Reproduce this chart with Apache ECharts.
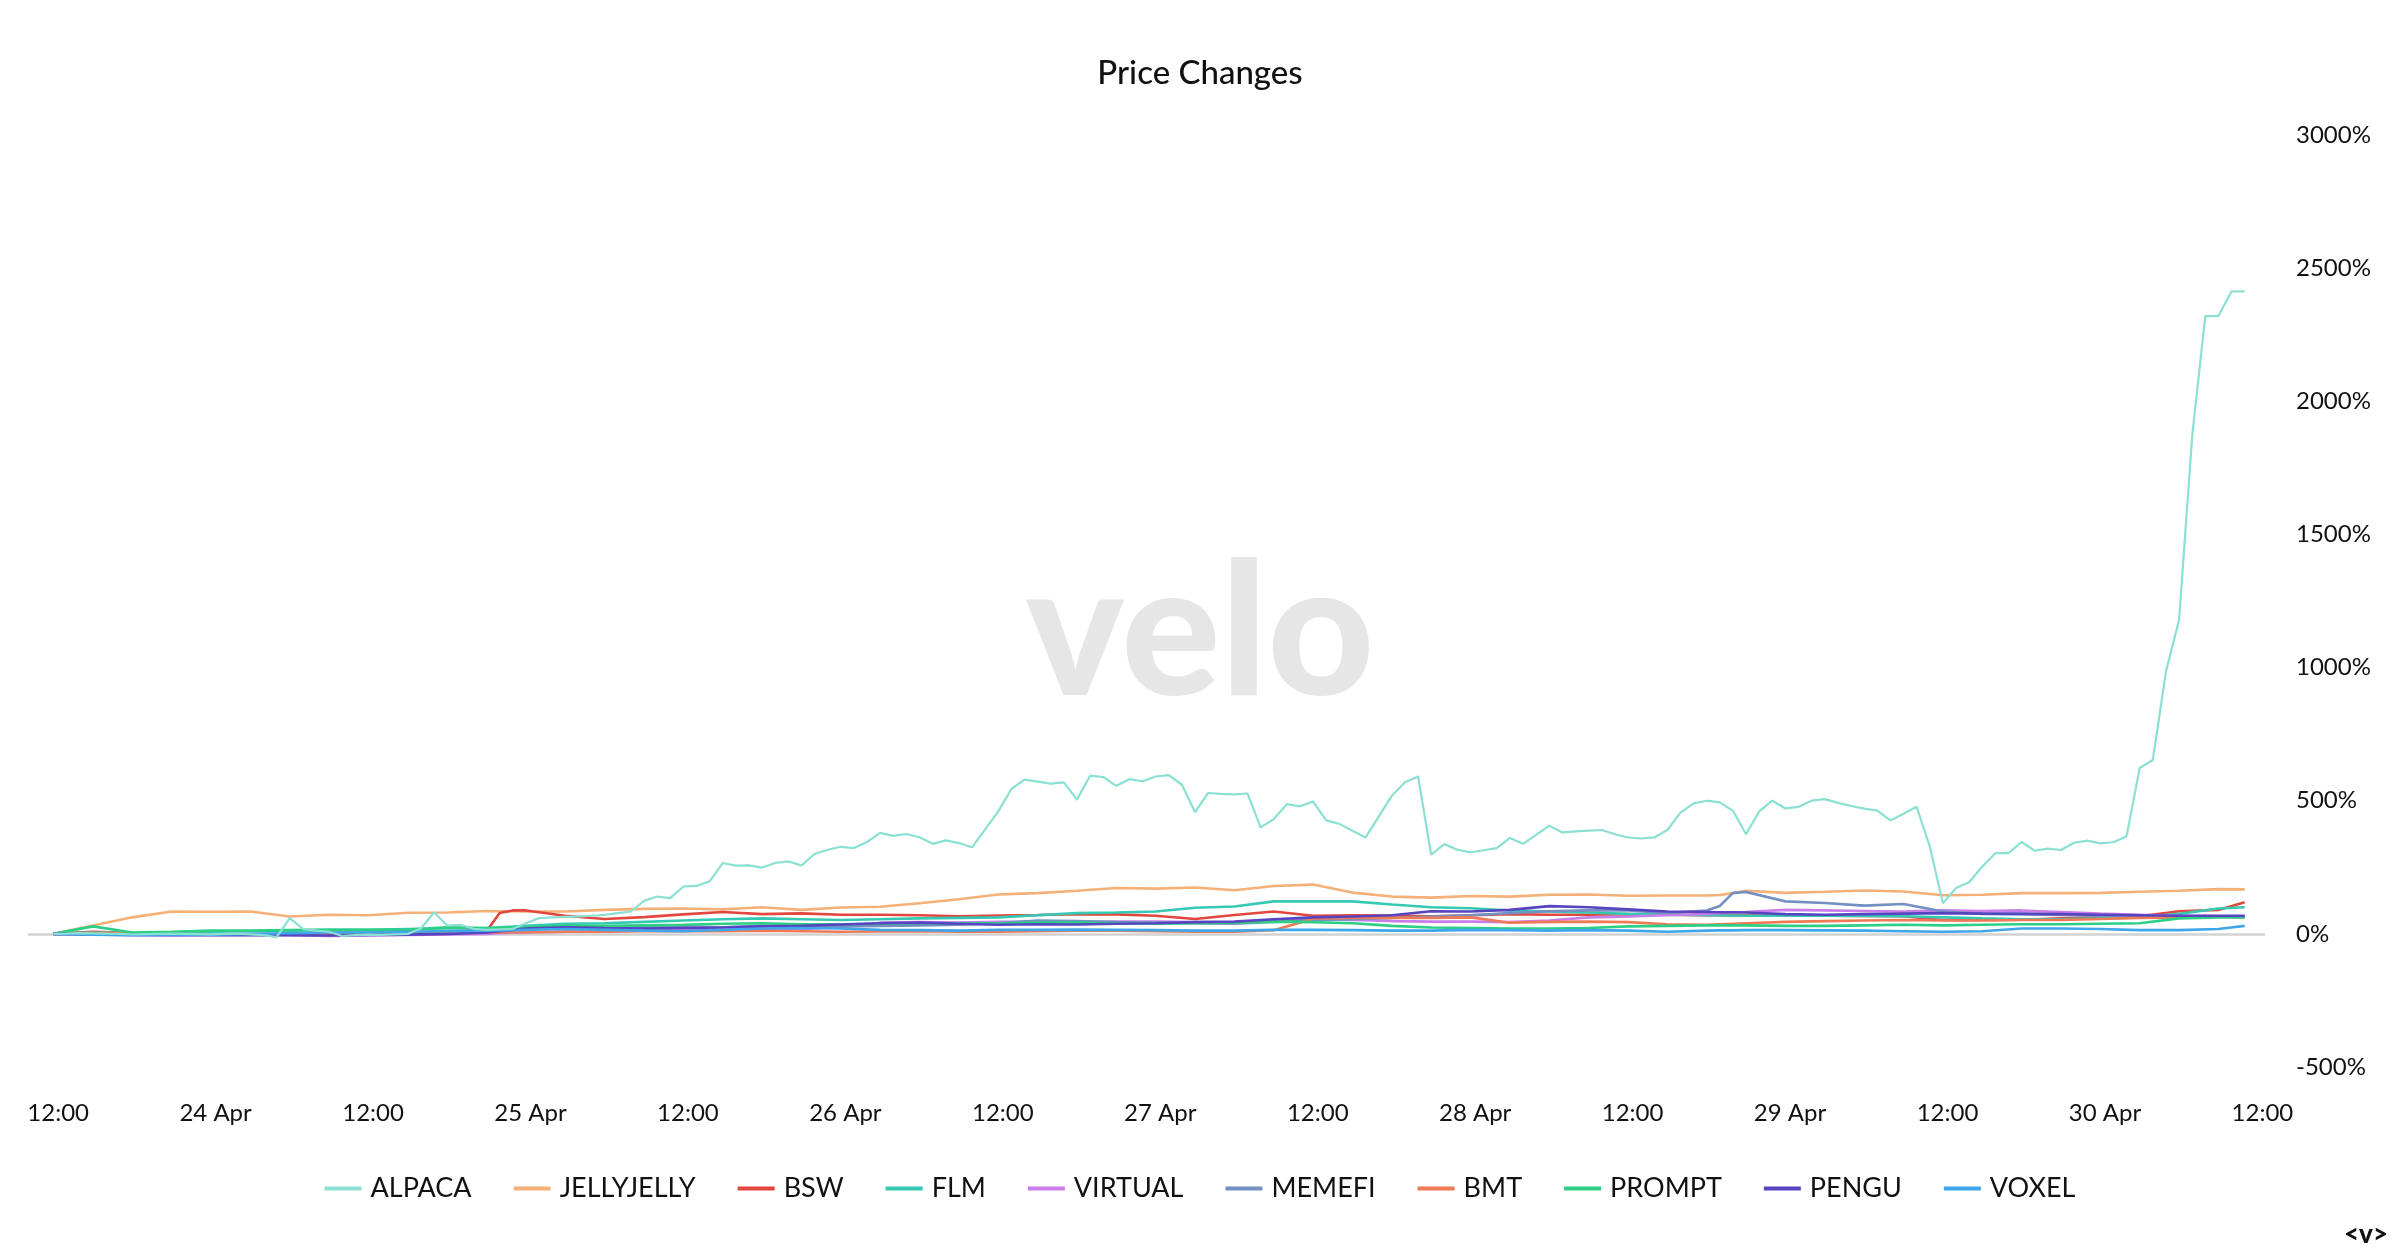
<!DOCTYPE html>
<html><head><meta charset="utf-8">
<script src="https://cdn.jsdelivr.net/npm/echarts@6/dist/echarts.min.js"></script>
<style>html,body{margin:0;padding:0;background:#fff}#c{width:2400px;height:1256px}</style>
</head><body><div id="c"></div>
<script>
// hours are counted from 23 Apr 00:00; samples are hourly at hh:39
const timeOffset = 0.65;
const xTickHours = [12,24,36,48,60,72,84,96,108,120,132,144,156,168,180];
const xTickLabels = ['12:00','24 Apr','12:00','25 Apr','12:00','26 Apr','12:00','27 Apr','12:00','28 Apr','12:00','29 Apr','12:00','30 Apr','12:00'];
const yTicks = {min:-500, max:3000, step:500};

const seriesNames = ['ALPACA','JELLYJELLY','BSW','FLM','VIRTUAL','MEMEFI','BMT','PROMPT','PENGU','VOXEL'];
const seriesColors = ['#8be0d4','#f5b078','#e2473f','#35c9b4','#c87de8','#7390c2','#ef7a55','#2dcf85','#5644c0','#3fa6ea'];

// ALPACA, hourly from hour 11 to hour 178
const alpacaFirstHour = 11;
const alpaca = [0,1,3,2,1,0,-2,-1,0,1,0,-1,-2,0,1,-2,-5,-12,59,19,12,8,-8,-5,-3,-4,-2,0,20,81,
31,34,19,15,17,19,40,59,62,64,66,68,71,78,84,124,140,134,178,180,197,266,256,257,249,266,272,257,300,316,
327,322,345,379,368,375,363,338,351,341,325,392,460,544,579,572,564,569,504,594,589,556,581,573,591,596,560,457,529,526,
524,527,400,431,487,479,497,426,413,387,362,440,519,569,591,297,337,316,306,314,322,360,338,372,406,381,385,388,390,374,
362,358,362,390,455,490,500,494,462,374,460,500,471,477,500,506,492,480,470,463,426,451,477,328,115,172,194,253,303,303,
345,312,320,315,342,350,340,344,367,623,653,985,1179,1869,2320,2320,2413,2413];

// other coins, sampled every few hours
const clusterHours = [11,14,17,20,23,26,29,32,35,38,41,44,45,46,47,50,53,56,59,62,65,68,71,74,77,80,83,86,89,92,95,98,101,104,107,110,113,116,119,122,125,128,131,134,137,138,139,140,143,146,149,152,155,158,161,164,167,170,173,176,178];
const jellyjelly = [0,31,62,84,83,84,65,72,70,79,80,86,85,85,84,84,90,94,95,92,100,90,99,102,115,130,148,153,162,172,170,174,164,180,185,155,140,136,142,140,147,148,143,144,144,146,153,162,154,158,163,159,145,147,153,153,154,158,162,168,167];
const bsw = [0,8,3,2,0,-2,-3,-2,0,2,3,10,78,88,88,68,56,63,73,82,74,77,72,72,70,66,69,71,74,73,68,56,71,84,68,70,69,66,70,74,72,72,74,72,70,70,70,70,68,68,67,66,52,52,53,58,62,66,85,90,119];
const flm = [0,5,3,5,8,10,12,15,15,18,20,22,25,27,30,38,40,45,50,55,58,55,52,55,58,60,62,70,78,80,84,98,103,122,122,122,110,100,96,88,84,80,75,72,70,69,69,68,68,68,67,66,62,58,55,55,58,62,75,95,100];
const virtual = [0,-2,-5,-6,-4,-3,-5,-8,-6,-4,-2,0,2,4,5,8,10,12,14,16,20,18,25,42,44,42,45,46,44,46,46,44,42,50,57,52,48,46,46,44,50,62,65,70,75,78,80,82,90,88,86,84,88,86,88,82,76,72,68,66,63];
const memefi = [0,2,0,-2,-3,-2,2,5,6,8,10,14,15,17,18,20,22,26,28,25,30,30,28,30,32,34,40,50,48,44,42,40,38,45,52,55,60,65,70,78,85,88,88,78,88,105,154,157,122,116,106,112,84,75,73,71,68,66,66,66,66];
const bmt = [0,3,2,0,-2,-3,-2,0,2,3,4,5,5,6,6,8,8,10,10,10,12,10,8,9,10,8,8,10,12,12,10,8,8,14,57,60,60,60,62,42,45,46,44,36,34,36,38,40,45,48,50,52,50,50,52,52,56,60,62,64,63];
const prompt = [0,28,5,8,12,12,14,15,15,16,25,22,23,25,26,30,30,32,34,38,40,36,36,38,40,40,40,42,42,40,38,40,42,46,44,40,30,24,22,20,20,22,28,30,32,32,32,32,30,30,32,34,32,34,36,36,38,40,58,62,62];
const pengu = [0,-2,-3,-4,-5,-4,-5,-6,-4,-3,0,5,10,15,20,25,22,20,22,24,28,30,35,40,42,38,34,36,35,38,40,44,46,55,62,65,70,85,84,90,104,100,92,84,82,81,81,80,74,72,74,76,78,76,76,74,72,70,68,68,68];
const voxel = [0,-3,-5,-4,-3,0,2,5,5,8,10,12,13,14,15,18,15,12,10,15,20,22,20,15,14,12,15,15,16,15,14,12,12,15,15,14,12,12,15,14,12,14,12,8,12,13,13,14,14,13,12,10,8,10,20,20,18,14,14,18,30];

const clusterValues = [jellyjelly,bsw,flm,virtual,memefi,bmt,prompt,pengu,voxel];

const chart = echarts.init(document.getElementById('c'), null, {renderer:'canvas'});
const font = 'Lato';

const series = seriesNames.map((name, i) => {
  let data;
  if (i === 0) {
    data = alpaca.map((v, k) => [alpacaFirstHour + k + timeOffset, v]);
  } else {
    const vals = clusterValues[i - 1];
    data = vals.map((v, k) => [clusterHours[k] + timeOffset, v]);
  }
  const s = {
    name, type:'line', data, symbol:'none', showSymbol:false,
    lineStyle:{width: i === 0 ? 2.2 : 2.6, color: seriesColors[i]},
    itemStyle:{color: seriesColors[i]},
    emphasis:{disabled:true}, animation:false, z: i === 0 ? 3 : 2
  };
  if (i === 0) {
    s.markLine = {silent:true, symbol:'none', label:{show:false},
      lineStyle:{color:'#d2d2d2', width:2.5, type:'solid'},
      data:[{yAxis:0}], animation:false, z:1};
  }
  return s;
});

chart.setOption({
  backgroundColor:'#ffffff',
  animation:false,
  title:{text:'Price Changes', left:'center', top:52,
    textStyle:{fontFamily:font, fontSize:33, fontWeight:500, color:'#111'}},
  graphic:[
    {type:'text', z:-10, silent:true, left:'center', top:543,
      style:{text:'velo', font:'900 185px Lato', fill:'#e6e6e6'}},
    {type:'text', right:12, bottom:8, silent:true,
      style:{text:'<v>', font:'900 26px Lato', fill:'#111'}}
  ],
  legend:{top:1170, left:'center', icon:'rect', itemWidth:37, itemHeight:4, itemGap:42,
    textStyle:{fontFamily:font, fontSize:27, color:'#111', padding:[0,0,0,4]}, data:seriesNames},
  grid:{left:28, right:135, top:135, bottom:189, containLabel:false},
  xAxis:{type:'value', min:9.7, max:180.2,
    axisLine:{show:false}, axisTick:{show:false}, splitLine:{show:false},
    axisLabel:{customValues:xTickHours, margin:34, fontFamily:font, fontSize:24, color:'#111',
      formatter:(v)=>{const k = xTickHours.indexOf(Math.round(v)); return k >= 0 ? xTickLabels[k] : '';}}},
  yAxis:{type:'value', position:'right', min:yTicks.min, max:yTicks.max, interval:yTicks.step,
    axisLine:{show:false}, axisTick:{show:false}, splitLine:{show:false},
    axisLabel:{formatter:(v)=> v + '%', margin:31, fontFamily:font, fontSize:24, color:'#111', align:'left'}},
  series
});
</script>
</body></html>
